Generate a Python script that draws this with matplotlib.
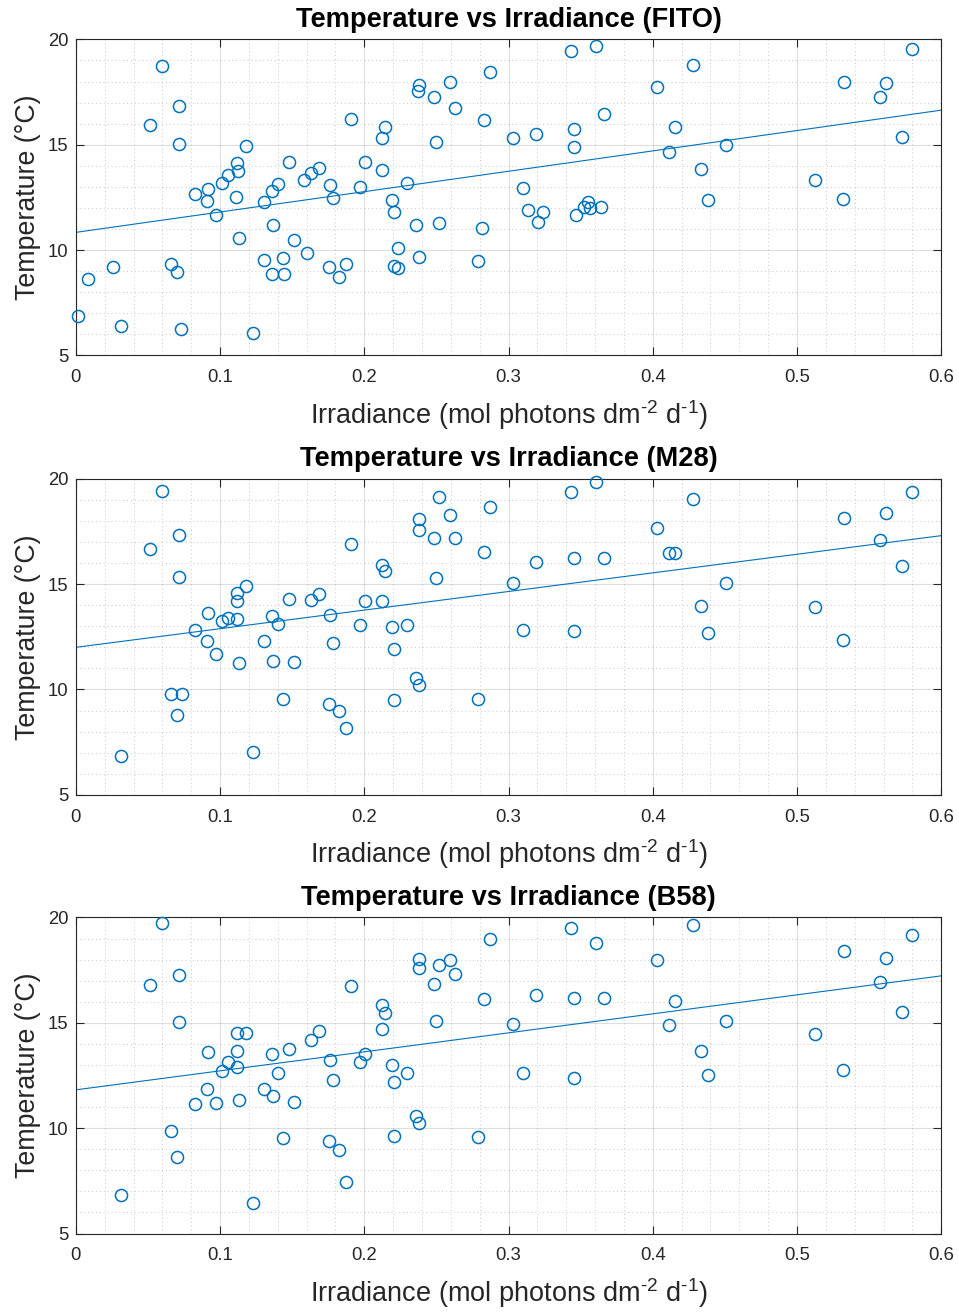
import matplotlib
matplotlib.use("Agg")
import matplotlib.pyplot as plt
from matplotlib.ticker import MultipleLocator
import numpy as np

plt.rcParams['font.family'] = ['Liberation Sans', 'DejaVu Sans']
plt.rcParams['mathtext.fontset'] = 'custom'
plt.rcParams['mathtext.rm'] = 'Liberation Sans'
plt.rcParams['mathtext.it'] = 'Liberation Sans'

# --- DATA ---
fito_x = [0.0012, 0.0084, 0.0259, 0.0313, 0.0514, 0.0597, 0.0661, 0.0699, 0.0717, 0.0715,
          0.0729, 0.0824, 0.0918, 0.0909, 0.0969, 0.1015, 0.1054, 0.1115, 0.1122, 0.1112,
          0.1133, 0.1177, 0.1226, 0.1302, 0.1304, 0.1357, 0.1399, 0.1369, 0.1357, 0.1436,
          0.1441, 0.1479, 0.1512, 0.1579, 0.1602, 0.1632, 0.1683, 0.1753, 0.1764, 0.1785,
          0.1826, 0.1875, 0.1909, 0.1968, 0.2006, 0.2122, 0.2122, 0.2141, 0.2194, 0.2203,
          0.2231, 0.2203, 0.2231, 0.2293, 0.2356, 0.2377, 0.2381, 0.2374, 0.2485, 0.2497,
          0.2519, 0.2596, 0.2630, 0.2829, 0.2813, 0.2786, 0.2871, 0.3028, 0.3188, 0.3430,
          0.3608, 0.3453, 0.3453, 0.3663, 0.3098, 0.3134, 0.3238, 0.3204, 0.3465, 0.3548,
          0.3525, 0.3562, 0.3640, 0.4031, 0.4278, 0.4156, 0.4112, 0.4505, 0.4332, 0.4384,
          0.5323, 0.5616, 0.5575, 0.5797, 0.5729, 0.5126, 0.5316]
fito_t = [6.89, 8.61, 9.18, 6.41, 15.92, 18.75, 9.33, 8.95, 16.84, 15.04,
          6.27, 12.66, 12.89, 12.33, 11.68, 13.20, 13.56, 14.12, 13.75, 12.51,
          10.59, 14.93, 6.05, 12.28, 9.54, 12.82, 13.15, 11.19, 8.87, 9.61,
          8.85, 14.18, 10.47, 13.34, 9.88, 13.64, 13.91, 9.21, 13.10, 12.46,
          8.74, 9.33, 16.21, 12.99, 14.17, 15.33, 13.80, 15.84, 12.38, 11.82,
          10.09, 9.26, 9.14, 13.20, 11.19, 9.66, 17.82, 17.55, 17.28, 15.13,
          11.29, 17.96, 16.74, 16.17, 11.03, 9.50, 18.47, 15.31, 15.50, 19.46,
          19.67, 15.73, 14.88, 16.47, 12.93, 11.89, 11.79, 11.32, 11.67, 12.28,
          12.05, 12.01, 12.05, 17.73, 18.77, 15.86, 14.66, 14.97, 13.83, 12.38,
          17.96, 17.92, 17.28, 19.56, 15.35, 13.33, 12.43]

m28_x = [0.0311, 0.0597, 0.0514, 0.0717, 0.0715, 0.0661, 0.0734, 0.0699, 0.0824, 0.0918,
         0.0909, 0.0969, 0.1015, 0.1054, 0.1115, 0.1115, 0.1115, 0.1177, 0.1133, 0.1226,
         0.1302, 0.1357, 0.1399, 0.1369, 0.1512, 0.1438, 0.1479, 0.1632, 0.1683, 0.1762,
         0.1785, 0.1753, 0.1826, 0.1875, 0.1909, 0.1968, 0.2006, 0.2122, 0.2141, 0.2122,
         0.2194, 0.2293, 0.2203, 0.2203, 0.2356, 0.2377, 0.2377, 0.2379, 0.2519, 0.2596,
         0.2485, 0.2630, 0.2497, 0.2829, 0.2871, 0.2786, 0.3028, 0.3188, 0.3430, 0.3608,
         0.3453, 0.3663, 0.3098, 0.3453, 0.4031, 0.4278, 0.4112, 0.4156, 0.4505, 0.4332,
         0.4384, 0.5323, 0.5616, 0.5797, 0.5575, 0.5729, 0.5126, 0.5316]
m28_t = [6.82, 19.43, 16.66, 17.33, 15.32, 9.78, 9.78, 8.80, 12.83, 13.65,
         12.28, 11.68, 13.25, 13.40, 14.56, 14.21, 13.36, 14.91, 11.25, 7.01,
         12.31, 13.50, 13.10, 11.33, 11.30, 9.56, 14.27, 14.24, 14.51, 13.55,
         12.20, 9.29, 8.99, 8.15, 16.90, 13.04, 14.21, 15.92, 15.60, 14.20,
         12.98, 13.04, 11.93, 9.51, 10.56, 10.22, 18.09, 17.57, 19.13, 18.29,
         17.17, 17.17, 15.30, 16.50, 18.66, 9.53, 15.06, 16.05, 19.37, 19.86,
         16.22, 16.25, 12.82, 12.77, 17.67, 19.02, 16.49, 16.47, 15.03, 13.94,
         12.66, 18.16, 18.39, 19.37, 17.09, 15.86, 13.93, 12.37]

b58_x = [0.0311, 0.0597, 0.0514, 0.0717, 0.0715, 0.0661, 0.0699, 0.0824, 0.0918, 0.0909,
         0.0969, 0.1015, 0.1054, 0.1115, 0.1177, 0.1115, 0.1115, 0.1133, 0.1226, 0.1302,
         0.1369, 0.1357, 0.1399, 0.1512, 0.1438, 0.1479, 0.1632, 0.1683, 0.1762, 0.1785,
         0.1753, 0.1826, 0.1875, 0.1909, 0.1968, 0.2006, 0.2122, 0.2141, 0.2122, 0.2194,
         0.2203, 0.2293, 0.2203, 0.2356, 0.2377, 0.2377, 0.2379, 0.2519, 0.2596, 0.2485,
         0.2630, 0.2497, 0.2829, 0.2871, 0.2786, 0.3028, 0.3188, 0.3430, 0.3608, 0.3453,
         0.3663, 0.3098, 0.3453, 0.4031, 0.4278, 0.4156, 0.4112, 0.4505, 0.4332, 0.4384,
         0.5323, 0.5616, 0.5797, 0.5575, 0.5729, 0.5126, 0.5316]
b58_t = [6.82, 19.76, 16.79, 17.29, 15.04, 9.89, 8.61, 11.14, 13.63, 11.84,
         11.21, 12.72, 13.12, 14.53, 14.53, 13.64, 12.90, 11.36, 6.46, 11.86,
         11.52, 13.53, 12.64, 11.24, 9.54, 13.77, 14.20, 14.59, 13.25, 12.30,
         9.39, 8.97, 7.44, 16.76, 13.12, 13.52, 15.86, 15.46, 14.72, 12.99,
         12.17, 12.60, 9.64, 10.57, 10.24, 18.03, 17.58, 17.76, 17.99, 16.85,
         17.31, 15.08, 16.14, 18.96, 9.58, 14.95, 16.30, 19.51, 18.80, 16.17,
         16.17, 12.64, 12.36, 17.98, 19.62, 16.03, 14.89, 15.10, 13.67, 12.53,
         18.41, 18.09, 19.18, 16.93, 15.51, 14.49, 12.76]

sites = ['FITO', 'M28', 'B58']
xs = [fito_x, m28_x, b58_x]
ts = [fito_t, m28_t, b58_t]

# trend line values at irradiance 0 and 0.6, as drawn in the reference
fit_x = [0.0, 0.6]
fit_start = [10.84, 12.00, 11.82]
fit_end = [16.64, 17.30, 17.23]

blue = '#0072BD'
dark = '#262626'

fig = plt.figure(figsize=(9.59, 13.12), dpi=100)
bottoms = [0.7291, 0.3942, 0.0598]

for i, (site, x, t, b) in enumerate(zip(sites, xs, ts, bottoms)):
    ax = fig.add_axes([0.0791, b, 0.9024, 0.2409])
    ax.plot(x, t, 'o', mfc='none', mec=blue, ms=8.7, mew=1.1, clip_on=False, zorder=3)
    ax.plot(fit_x, [fit_start[i], fit_end[i]], '-', color=blue, lw=0.8, zorder=2)

    ax.set_xlim(0, 0.6)
    ax.set_ylim(5, 20)
    ax.set_xticks(np.arange(0, 0.61, 0.1))
    ax.set_xticklabels(['0', '0.1', '0.2', '0.3', '0.4', '0.5', '0.6'])
    ax.xaxis.set_minor_locator(MultipleLocator(0.02))
    ax.yaxis.set_major_locator(MultipleLocator(5))
    ax.yaxis.set_minor_locator(MultipleLocator(1))

    ax.grid(True, which='major', color='#262626', alpha=0.15, lw=0.8)
    ax.grid(True, which='minor', color='#262626', alpha=0.25, lw=0.7, ls=(0, (1, 3)))
    ax.set_axisbelow(True)

    ax.tick_params(which='major', direction='in', length=6, width=0.8, top=True, right=True,
                   colors=dark, labelsize=13.3)
    ax.tick_params(axis='x', which='major', pad=10)
    ax.tick_params(axis='y', which='major', pad=5.5)
    ax.tick_params(which='minor', length=0, top=True, right=True)
    for s in ax.spines.values():
        s.set_color(dark)
        s.set_linewidth(0.8)

    ax.set_title(f'Temperature vs Irradiance ({site})', fontsize=19.6, fontweight='bold', pad=9)
    ax.set_xlabel(r'Irradiance (mol photons dm$^{\text{-2}}$ d$^{\text{-1}}$)', fontsize=19.5,
                  color=dark, labelpad=8.5)
    ax.set_ylabel('Temperature (°C)', fontsize=19.3, color=dark, labelpad=5)

fig.savefig('out.png', dpi=100)
